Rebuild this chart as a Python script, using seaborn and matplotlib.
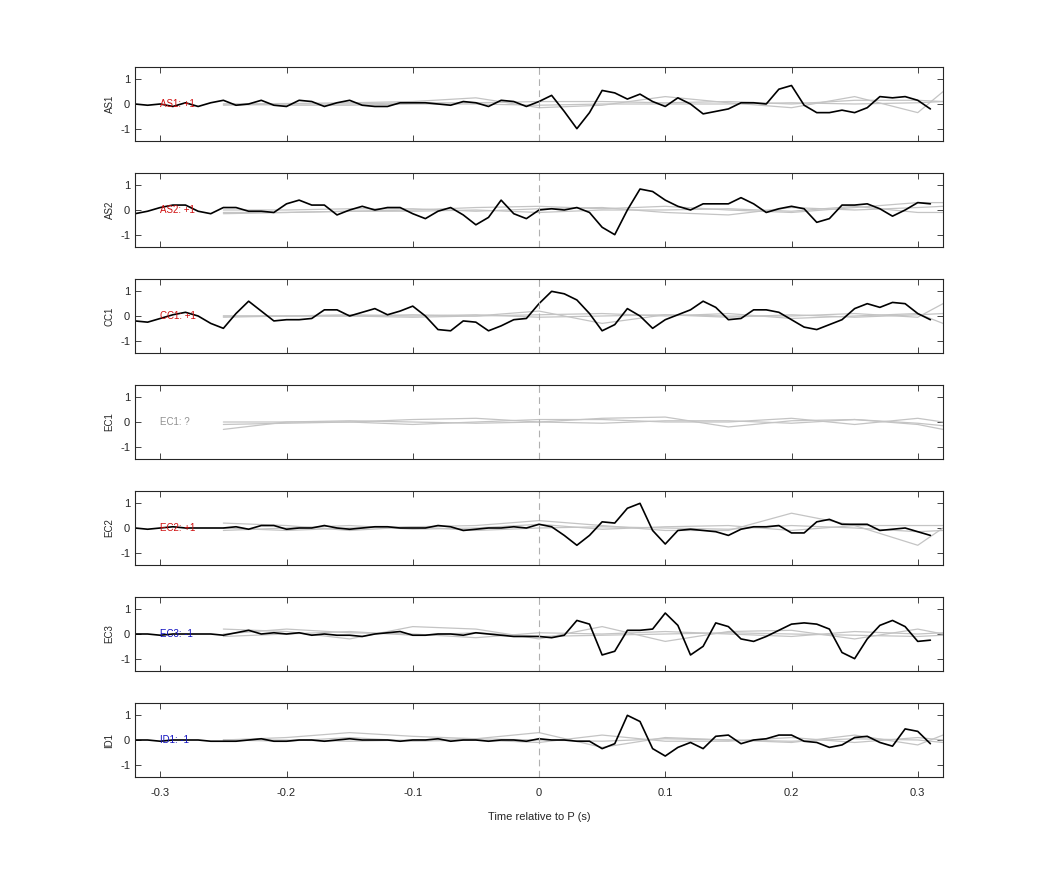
import numpy as np
import pandas as pd
import matplotlib
matplotlib.use("Agg")
import matplotlib.pyplot as plt
import seaborn as sns

stations = ["AS1", "AS2", "CC1", "EC1", "EC2", "EC3", "ID1"]
labels = ["AS1: +1", "AS2: +1", "CC1: +1", "EC1: ?", "EC2: +1", "EC3: -1", "ID1: -1"]
label_colors = ["#d01010", "#d01010", "#d01010", "#909090", "#d01010", "#1010c0", "#1010c0"]
xticks = [-0.3, -0.2, -0.1, 0, 0.1, 0.2, 0.3]
xtick_labels = ["-0.3", "-0.2", "-0.1", "0", "0.1", "0.2", "0.3"]

t_black = np.round(np.arange(-0.32, 0.315, 0.01), 2)
black = {
    "AS1": [0, -0.05, 0, -0.1, 0.05, -0.1, 0.05, 0.15, -0.05, 0, 0.15, -0.05, -0.1, 0.15, 0.1, -0.1,
            0.05, 0.15, -0.05, -0.1, -0.1, 0.05, 0.05, 0.05, 0, -0.05, 0.1, 0.05, -0.1, 0.15, 0.1, -0.1,
            0.1, 0.35, -0.3, -1.0, -0.35, 0.55, 0.45, 0.2, 0.4, 0.1, -0.1, 0.25, 0, -0.4, -0.3, -0.2,
            0.05, 0.05, 0, 0.6, 0.75, -0.05, -0.35, -0.35, -0.25, -0.35, -0.15, 0.3, 0.25, 0.3, 0.15, -0.2],
    "AS2": [-0.15, -0.05, 0.1, 0.2, 0.2, -0.05, -0.15, 0.1, 0.1, -0.05, -0.05, -0.1, 0.25, 0.4, 0.2, 0.2,
            -0.2, 0, 0.15, 0, 0.1, 0.1, -0.15, -0.35, -0.05, 0.1, -0.2, -0.6, -0.3, 0.4, -0.15, -0.35,
            0, 0.05, 0, 0.1, -0.1, -0.7, -1.0, 0, 0.85, 0.75, 0.4, 0.15, 0, 0.25, 0.25, 0.25,
            0.5, 0.25, -0.1, 0.05, 0.15, 0.05, -0.5, -0.35, 0.2, 0.2, 0.25, 0.05, -0.25, 0, 0.3, 0.25],
    "CC1": [-0.2, -0.25, -0.1, 0.05, 0.15, 0, -0.3, -0.5, 0.1, 0.6, 0.2, -0.2, -0.15, -0.15, -0.1, 0.25,
            0.25, 0, 0.15, 0.3, 0.05, 0.2, 0.4, 0, -0.55, -0.6, -0.2, -0.25, -0.6, -0.4, -0.15, -0.1,
            0.5, 1.0, 0.9, 0.65, 0.1, -0.6, -0.35, 0.3, 0, -0.5, -0.15, 0.05, 0.25, 0.6, 0.35, -0.15,
            -0.1, 0.25, 0.25, 0.15, -0.15, -0.45, -0.55, -0.35, -0.15, 0.3, 0.5, 0.35, 0.55, 0.5, 0.1, -0.15],
    "EC1": None,
    "EC2": [0, -0.05, 0, 0.05, 0, 0, 0, 0, 0.05, -0.05, 0.1, 0.1, -0.05, 0, 0, 0.1,
            0, -0.05, 0, 0.05, 0.05, 0, 0, 0, 0.1, 0.05, -0.1, -0.05, 0, 0, 0.05, 0,
            0.15, 0.05, -0.3, -0.7, -0.3, 0.25, 0.2, 0.8, 1.0, -0.1, -0.65, -0.1, -0.05, -0.1, -0.15, -0.3,
            -0.05, 0.05, 0.05, 0.1, -0.2, -0.2, 0.25, 0.35, 0.15, 0.15, 0.15, -0.1, -0.05, 0, -0.15, -0.3],
    "EC3": [0, 0, -0.05, 0, 0, 0, 0, -0.05, 0.05, 0.15, 0, 0.05, 0, 0.05, -0.05, 0,
            -0.05, -0.05, -0.1, 0, 0.05, 0.1, -0.05, -0.05, 0, 0, -0.05, 0.05, 0, -0.05, -0.1, -0.1,
            -0.1, -0.15, -0.05, 0.55, 0.4, -0.85, -0.7, 0.15, 0.15, 0.2, 0.85, 0.35, -0.85, -0.5, 0.45, 0.3,
            -0.2, -0.3, -0.1, 0.15, 0.4, 0.45, 0.4, 0.2, -0.75, -1.0, -0.2, 0.35, 0.55, 0.3, -0.3, -0.25],
    "ID1": [0, 0, -0.05, 0, 0, 0, -0.05, -0.05, -0.05, 0, 0.05, -0.05, -0.05, 0, 0, -0.05,
            0, 0.05, 0, 0, 0, -0.05, 0, 0, 0.05, -0.05, 0, 0, -0.05, 0, 0, -0.05,
            0.05, 0, 0, -0.05, -0.05, -0.35, -0.15, 1.0, 0.75, -0.35, -0.65, -0.3, -0.1, -0.35, 0.15, 0.2,
            -0.15, 0, 0.05, 0.2, 0.2, -0.05, -0.1, -0.3, -0.2, 0.1, 0.15, -0.1, -0.25, 0.45, 0.35, -0.15],
}

t_gray = [-0.25, -0.2, -0.15, -0.1, -0.05, 0.0, 0.05, 0.1, 0.15, 0.2, 0.25, 0.3, 0.32]
gray = {
    "AS1": [[0, 0.02, 0.05, 0.1, 0.25, -0.15, -0.05, 0.3, 0.05, -0.15, 0.3, -0.35, 0.5],
            [-0.05, 0, 0, 0.05, 0.05, 0.1, 0.1, 0.05, 0.1, 0, 0.15, 0.15, 0.1],
            [0, -0.05, -0.05, 0, 0, -0.05, 0, 0, 0, 0.05, 0, 0.05, 0.1]],
    "AS2": [[-0.15, -0.1, -0.05, 0, 0.1, 0.15, 0.05, 0.15, 0, -0.1, 0.1, 0.3, 0.3],
            [0, 0, 0.05, 0.05, -0.05, 0.05, 0.1, -0.1, -0.2, 0.1, 0, 0.1, 0.15],
            [-0.1, -0.1, -0.05, -0.05, 0, -0.1, 0, 0, 0.05, -0.05, 0.15, -0.1, -0.1]],
    "CC1": [[-0.05, 0, 0, 0.05, 0, 0.2, -0.3, 0.05, 0, 0, 0.1, -0.05, 0.5],
            [0, 0, 0, -0.05, 0, 0.05, 0.1, 0, 0.1, -0.1, 0, 0.1, -0.3],
            [0, 0, 0.05, 0, 0.05, -0.05, 0, 0.05, -0.05, 0.05, -0.05, 0.05, 0.1]],
    "EC1": [[-0.3, 0, 0, 0.1, 0.15, 0, 0.15, 0.2, -0.2, 0.05, 0.1, -0.05, -0.15],
            [-0.1, -0.05, 0, -0.1, 0, 0.1, 0.1, 0, 0, 0.15, -0.1, 0.15, 0],
            [0, 0, 0.05, 0, -0.05, 0, -0.05, 0.05, 0.05, -0.05, 0.1, -0.1, -0.3]],
    "EC2": [[0.2, 0.1, -0.1, 0.05, 0.1, 0.3, 0.1, -0.1, -0.1, 0.6, 0.1, -0.7, 0],
            [-0.1, 0, 0.1, -0.05, 0, 0.15, -0.05, 0.05, 0.1, -0.1, 0.1, 0.1, 0.1],
            [0, -0.1, 0, 0.05, -0.1, 0, 0.05, 0, -0.05, 0.1, 0, -0.15, -0.1]],
    "EC3": [[0.2, 0.1, -0.2, 0.3, 0.2, -0.2, 0.3, -0.3, 0.1, 0.15, -0.2, 0.2, 0],
            [0, 0.2, 0.05, 0, -0.15, 0.05, 0, 0.1, 0, -0.1, 0.1, 0, 0.05],
            [-0.1, 0, 0.1, -0.05, 0.05, -0.1, -0.05, 0, 0.05, 0, -0.05, -0.1, -0.05]],
    "ID1": [[0, 0.1, 0.3, 0.15, 0.05, 0.3, -0.3, 0.1, 0, -0.1, 0.2, -0.2, 0.2],
            [0, -0.05, 0.1, -0.05, 0, -0.1, 0.2, -0.05, -0.05, 0.1, -0.1, 0.1, 0],
            [0, 0, -0.05, 0, 0.05, 0, -0.05, 0.05, 0, -0.05, 0.05, 0, -0.1]],
}

sns.set_style("ticks")
plt.rcParams["font.family"] = ["Liberation Sans", "DejaVu Sans"]
plt.rcParams["xtick.direction"] = "in"
plt.rcParams["ytick.direction"] = "in"
plt.rcParams["axes.unicode_minus"] = False

fig = plt.figure(figsize=(10.42, 8.75), dpi=100)
W, H = 1042, 875
left, right = 135 / W, 943 / W
tops = [67 + i * 106 for i in range(7)]
for i, st in enumerate(stations):
    ax = fig.add_axes([left, 1 - (tops[i] + 74) / H, right - left, 74 / H])
    for g in gray[st]:
        sns.lineplot(x=t_gray, y=g, ax=ax, color="#c4c4c4", linewidth=0.9)
    if black[st] is not None:
        sns.lineplot(x=t_black, y=black[st], ax=ax, color="black", linewidth=1.2)
    ax.axvline(0, color="#b0b0b0", linestyle=(0, (6, 4)), linewidth=0.8)
    ax.text(-0.3, 0, labels[i], color=label_colors[i], fontsize=7, va="center", ha="left")
    ax.set_xlim(-0.32, 0.32)
    ax.set_ylim(-1.5, 1.5)
    ax.set_yticks([-1, 0, 1])
    ax.set_xticks(xticks)
    ax.tick_params(top=True, right=True, labelsize=8, length=4, width=0.6)
    ax.tick_params(axis="x", pad=8)
    ax.set_ylabel(st, fontsize=7)
    for s in ax.spines.values():
        s.set_linewidth(0.8)
    if i < 6:
        ax.set_xticklabels([])
    else:
        ax.set_xticklabels(xtick_labels)
        ax.set_xlabel("Time relative to P (s)", fontsize=8, labelpad=10)

fig.savefig("out.png", dpi=100)
